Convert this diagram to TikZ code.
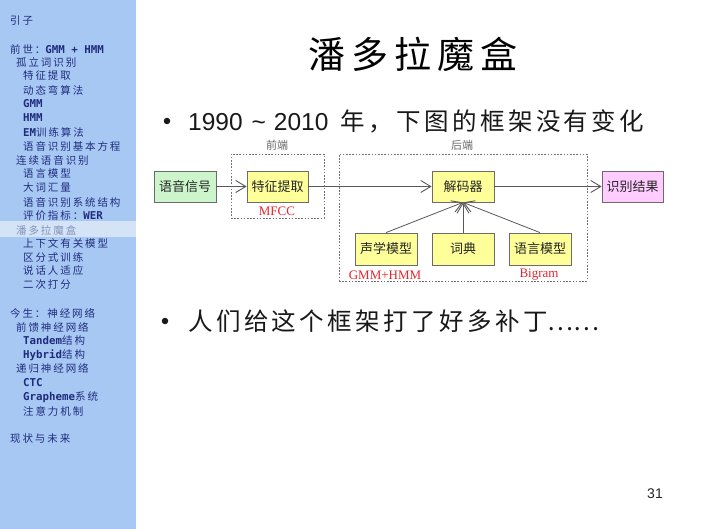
\documentclass[tikz,border=0pt]{standalone}
\usepackage{fontspec}
\setmainfont{Liberation Sans}
\newfontfamily\cjk{Noto Sans CJK SC}
\newfontfamily\cjkw[LetterSpace=14]{Noto Sans CJK SC}
\newfontfamily\cjkt[LetterSpace=16]{Noto Sans CJK SC}
\newfontfamily\sbc[LetterSpace=18]{Noto Sans CJK SC}
\newfontfamily\sbl{DejaVu Sans Mono}
\newfontfamily\tms{Liberation Serif}
\usetikzlibrary{arrows.meta}
\definecolor{sidebg}{HTML}{A8C8F4}
\definecolor{sidehi}{HTML}{D5E3F7}
\definecolor{sidetx}{HTML}{1F2C7C}
\definecolor{sidegr}{HTML}{8493BA}
\definecolor{boxgreen}{HTML}{CCF5CC}
\definecolor{boxyellow}{HTML}{FFFF99}
\definecolor{boxpink}{HTML}{FFCCFF}
\definecolor{boxline}{HTML}{6B6B6B}
\definecolor{lblred}{HTML}{E8242C}
\newcommand{\sblat}{\sbl\bfseries\fontsize{10.8}{12}\selectfont}
\tikzset{
  sideitem/.style={anchor=west, inner sep=0pt, text=sidetx, font=\fontsize{10.5}{12}\selectfont},
  box/.style={draw=boxline, line width=0.8pt, minimum width=62pt, minimum height=31pt, inner sep=0pt, font=\cjk\fontsize{13}{15}\selectfont, text=black!85},
  grp/.style={draw=black!55, line width=0.6pt, dash pattern=on 1.6pt off 1.6pt, inner sep=0pt},
  grplabel/.style={inner sep=0pt, text=black!60, font=\cjk\fontsize{11}{13}\selectfont},
  redlabel/.style={inner sep=0pt, text=lblred, font=\tms\fontsize{13}{15}\selectfont},
  arr/.style={draw=black!65, line width=0.8pt, -{Straight Barb[length=10pt,width=12pt,line width=0.9pt]}},
  bul/.style={anchor=west, inner sep=0pt, text=black!90, font=\fontsize{24.5}{28}\selectfont},
  buldot/.style={circle, fill=black!90, inner sep=0pt, minimum size=6.5pt}
}
\begin{document}
\begin{tikzpicture}[x=1pt,y=-1pt]
\useasboundingbox (0,0) rectangle (706,529);
\fill[white] (0,0) rectangle (706,529);
% sidebar
\fill[sidebg] (0,0) rectangle (136,529);
\fill[sidehi] (0,221) rectangle (136,237);
\node[sideitem] (s01) at (10,21) {\sbc 引子};
\node[sideitem] (s02) at (10,49) {\sbc 前世：\sblat GMM + HMM};
\node[sideitem] (s03) at (16,63) {\sbc 孤立词识别};
\node[sideitem] (s04) at (23,76) {\sbc 特征提取};
\node[sideitem] (s05) at (23,90) {\sbc 动态弯算法};
\node[sideitem] (s06) at (23,104) {\sblat GMM};
\node[sideitem] (s07) at (23,118) {\sblat HMM};
\node[sideitem] (s08) at (23,132) {{\sblat EM}\sbc 训练算法};
\node[sideitem] (s09) at (23,146) {\sbc 语音识别基本方程};
\node[sideitem] (s10) at (16,160) {\sbc 连续语音识别};
\node[sideitem] (s11) at (23,174) {\sbc 语言模型};
\node[sideitem] (s12) at (23,188) {\sbc 大词汇量};
\node[sideitem] (s13) at (23,202) {\sbc 语音识别系统结构};
\node[sideitem] (s14) at (23,216) {\sbc 评价指标：\sblat WER};
\node[sideitem, text=sidegr] (s15) at (16,230) {\sbc 潘多拉魔盒};
\node[sideitem] (s16) at (23,243) {\sbc 上下文有关模型};
\node[sideitem] (s17) at (23,257) {\sbc 区分式训练};
\node[sideitem] (s18) at (23,271) {\sbc 说话人适应};
\node[sideitem] (s19) at (23,285) {\sbc 二次打分};
\node[sideitem] (s20) at (10,313) {\sbc 今生：神经网络};
\node[sideitem] (s21) at (16,327) {\sbc 前馈神经网络};
\node[sideitem] (s22) at (23,341) {{\sblat Tandem}\sbc 结构};
\node[sideitem] (s23) at (23,355) {{\sblat Hybrid}\sbc 结构};
\node[sideitem] (s24) at (16,368) {\sbc 递归神经网络};
\node[sideitem] (s25) at (23,383) {\sblat CTC};
\node[sideitem] (s26) at (23,397) {{\sblat Grapheme}\sbc 系统};
\node[sideitem] (s27) at (23,411) {\sbc 注意力机制};
\node[sideitem] (s28) at (10,439) {\sbc 现状与未来};
% title
\node[inner sep=0pt, font=\cjkt\fontsize{37}{42}\selectfont] (title) at (413,54) {潘多拉魔盒};
% bullets
\node[buldot] (b1dot) at (167,121) {};
\node[bul] (b1) at (188,121) {1990\hspace{9pt}\char`\~\hspace{8pt}2010\hspace{12pt}{\cjkw 年，下图的框架没有变化}};
\node[buldot] (b2dot) at (165,321) {};
\node[bul] (b2) at (188,321) {{\cjkw 人们给这个框架打了好多补丁}{\cjk ……}};
% page number
\node[inner sep=0pt, font=\fontsize{14}{16}\selectfont, text=black!85] (pg) at (655,494) {31};
% group boxes
\node[grp, minimum width=93pt, minimum height=64pt] (front) at (277.5,186) {};
\node[grp, minimum width=248pt, minimum height=127pt] (back) at (463,217.5) {};
\node[grplabel] (frontlbl) at (277,145) {前端};
\node[grplabel] (backlbl) at (462,145) {后端};
% boxes
\node[box, fill=boxgreen] (sig) at (185,186.5) {语音信号};
\node[box, fill=boxyellow, minimum width=61pt] (feat) at (277.5,186.5) {特征提取};
\node[box, fill=boxyellow] (dec) at (463,186.5) {解码器};
\node[box, fill=boxpink, minimum width=61pt] (res) at (632.5,186.5) {识别结果};
\node[box, fill=boxyellow, minimum height=32pt] (ac) at (386,249) {声学模型};
\node[box, fill=boxyellow, minimum height=32pt] (lex) at (463,249) {词典};
\node[box, fill=boxyellow, minimum height=32pt] (lm) at (540,249) {语言模型};
% red labels
\node[redlabel] (mfcc) at (277,211) {MFCC};
\node[redlabel] (gmm) at (385,275) {GMM+HMM};
\node[redlabel] (bigram) at (539,275) {Bigram};
% connectors
\draw[arr] (sig) -- (feat);
\draw[arr] (feat) -- (dec);
\draw[arr] (dec) -- (res);
\draw[arr] (ac.north) -- (dec.south);
\draw[arr] (lex.north) -- (dec.south);
\draw[arr] (lm.north) -- (dec.south);
\end{tikzpicture}
\end{document}
